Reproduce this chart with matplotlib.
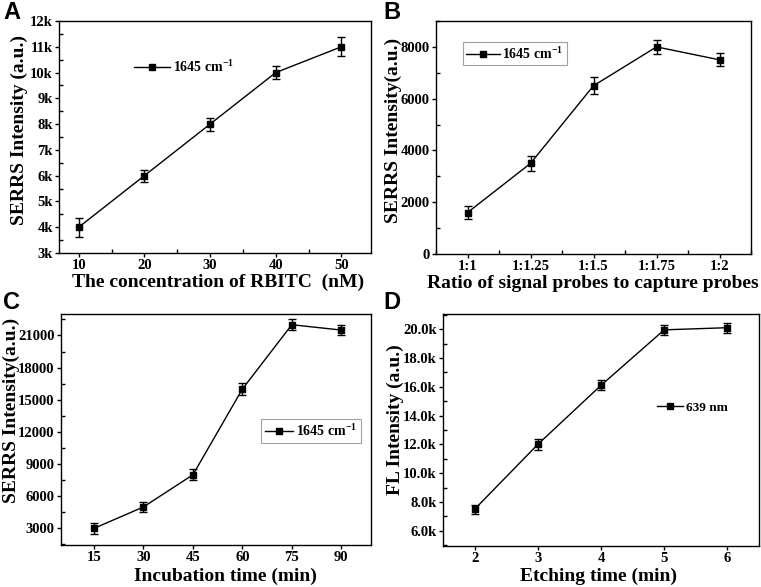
import matplotlib
matplotlib.use("Agg")
import matplotlib.pyplot as plt
from matplotlib.ticker import MultipleLocator, FuncFormatter
from matplotlib.lines import Line2D

plt.rcParams['font.family'] = ['Liberation Serif', 'DejaVu Serif']
plt.rcParams['font.weight'] = 'bold'
plt.rcParams['mathtext.default'] = 'regular'

# Panel A
a_x = [10, 20, 30, 40, 50]
a_y = [4000, 6000, 8000, 10000, 11000]
a_err = [360, 230, 250, 240, 360]

# Panel B
b_labels = ['1:1', '1:1.25', '1:1.5', '1:1.75', '1:2']
b_y = [1600, 3500, 6500, 8000, 7500]
b_err = [250, 300, 320, 280, 250]

# Panel C
c_x = [15, 30, 45, 60, 75, 90]
c_y = [3000, 5000, 8000, 16000, 22000, 21500]
c_err = [500, 500, 500, 550, 500, 450]

# Panel D
d_x = [2, 3, 4, 5, 6]
d_y = [7500, 12000, 16100, 19950, 20100]
d_err = [300, 400, 350, 350, 350]

fig = plt.figure(figsize=(7.61, 5.87), dpi=100)
W, H = 761, 587

def add_ax(l, r, t, b):
    return fig.add_axes([l / W, 1 - b / H, (r - l) / W, (b - t) / H])

axA = add_ax(59, 371, 21, 253)
axB = add_ax(436, 751, 21, 254)
axC = add_ax(61, 371, 314, 545)
axD = add_ax(443, 759, 314, 546)

lab_fs = 14
tick_fs = 10.5

def style(ax):
    for s in ax.spines.values():
        s.set_linewidth(1.0)
    ax.tick_params(which='major', direction='out', length=3, width=1, labelsize=tick_fs, pad=1.5)
    ax.tick_params(which='minor', direction='in', length=3, width=1)
    for t in ax.get_xticklabels() + ax.get_yticklabels():
        t.set_fontweight('bold')

def draw(ax, x, y, err):
    ax.errorbar(x, y, yerr=err, color='black', lw=1.0, marker='s', ms=5,
                capsize=3, elinewidth=1.0, capthick=1.0)

def handle():
    return Line2D([], [], color='black', lw=1.0, marker='s', ms=4.5)

def labels(ax, xl, yl, ylx, yly, xlx, xly):
    ax.set_xlabel(xl, fontsize=lab_fs, fontweight='bold')
    ax.set_ylabel(yl, fontsize=lab_fs, fontweight='bold')
    ax.yaxis.set_label_coords(ylx / W, 1 - yly / H, transform=fig.transFigure)
    ax.xaxis.set_label_coords(xlx / W, 1 - xly / H, transform=fig.transFigure)
    ax.yaxis.label.set_va('center')
    ax.xaxis.label.set_va('center')

# A
draw(axA, a_x, a_y, a_err)
axA.set_xlim(7, 54.5)
axA.set_ylim(3000, 12000)
axA.xaxis.set_major_locator(MultipleLocator(10))
axA.xaxis.set_minor_locator(MultipleLocator(5))
axA.yaxis.set_major_locator(MultipleLocator(1000))
axA.yaxis.set_minor_locator(MultipleLocator(500))
axA.yaxis.set_major_formatter(FuncFormatter(lambda v, p: f'{int(round(v/1000))}k'))
labels(axA, 'The concentration of RBITC  (nM)', 'SERRS Intensity (a.u.)', 19, 130, 218, 282)
axA.legend([handle()], [r'1645 cm$^{-1}$'], loc='center left', bbox_to_anchor=(0.222, 0.80),
           frameon=False, handlelength=2.6, handletextpad=0.2, borderaxespad=0,
           prop={'weight': 'bold', 'size': 10})
style(axA)

# B
bx = list(range(len(b_labels)))
draw(axB, bx, b_y, b_err)
axB.set_xlim(-0.5, 4.5)
axB.set_ylim(0, 9000)
axB.set_xticks(bx)
axB.set_xticklabels(b_labels)
axB.xaxis.set_minor_locator(MultipleLocator(0.5))
axB.yaxis.set_major_locator(MultipleLocator(2000))
axB.yaxis.set_minor_locator(MultipleLocator(1000))
labels(axB, 'Ratio of signal probes to capture probes', 'SERRS Intensity(a.u.)', 393, 130, 593, 283)
legB = axB.legend([handle()], [r'1645 cm$^{-1}$'], loc='center left',
                  bbox_to_anchor=(0.085, 0.86), frameon=True, fancybox=False,
                  edgecolor='#888888', handlelength=2.4, handletextpad=0.2,
                  borderpad=0.25, borderaxespad=0,
                  prop={'weight': 'bold', 'size': 10})
legB.get_frame().set_linewidth(0.8)
style(axB)

# C
draw(axC, c_x, c_y, c_err)
axC.set_xlim(5, 99)
axC.set_ylim(1450, 23000)
axC.xaxis.set_major_locator(MultipleLocator(15))
axC.yaxis.set_minor_locator(MultipleLocator(1500))
axC.set_yticks([3000, 6000, 9000, 12000, 15000, 18000, 21000])
labels(axC, 'Incubation time (min)', 'SERRS Intensity(a.u.)', 11, 410, 225, 576)
legC = axC.legend([handle()], [r'1645 cm$^{-1}$'], loc='center left',
                  bbox_to_anchor=(0.645, 0.495), frameon=True, fancybox=False,
                  edgecolor='#888888', handlelength=2.0, handletextpad=0.2,
                  borderpad=0.3, borderaxespad=0,
                  prop={'weight': 'bold', 'size': 10})
legC.get_frame().set_linewidth(0.8)
style(axC)

# D
draw(axD, d_x, d_y, d_err)
axD.set_xlim(1.5, 6.5)
axD.set_ylim(4950, 21050)
axD.xaxis.set_major_locator(MultipleLocator(1))
axD.yaxis.set_major_locator(MultipleLocator(2000))
axD.yaxis.set_minor_locator(MultipleLocator(1000))
axD.yaxis.set_major_formatter(FuncFormatter(lambda v, p: f'{v/1000:.1f}k'))
labels(axD, 'Etching time (min)', 'FL Intensity (a.u.)', 395, 420, 598, 576)
axD.legend([handle()], ['639 nm'], loc='center left', bbox_to_anchor=(0.66, 0.595),
           frameon=False, handlelength=2.0, handletextpad=0.2, borderaxespad=0,
           prop={'weight': 'bold', 'size': 9.5})
style(axD)

# Panel letters
for lbl, x, y in [('A', 3, 1), ('B', 383, 1), ('C', 3, 291), ('D', 383, 291)]:
    fig.text(x / W, 1 - y / H, lbl, fontsize=17, fontweight='bold',
             family=['Liberation Sans', 'DejaVu Sans'], va='top', ha='left')

fig.savefig('out.png', dpi=100)
